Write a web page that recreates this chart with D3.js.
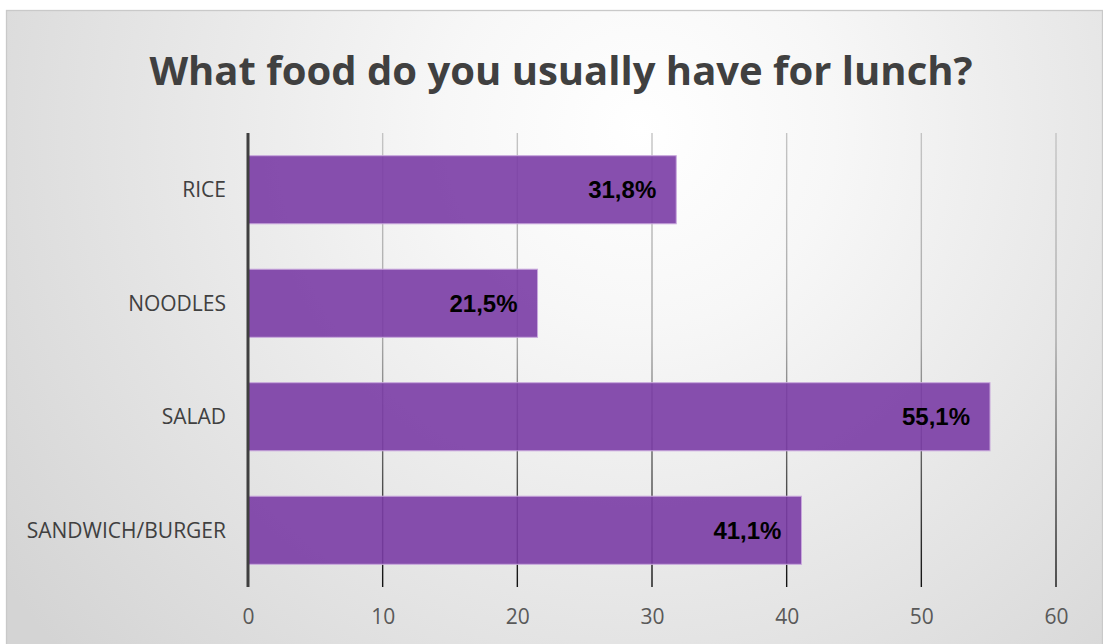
<!DOCTYPE html>
<html>
<head>
<meta charset="utf-8">
<script src="https://cdn.jsdelivr.net/npm/d3@7"></script>
<style>
  html, body { margin: 0; padding: 0; background: #ffffff; }
  svg { display: block; }
</style>
</head>
<body>
<svg id="chart" width="1103" height="644"></svg>
<script>
// Survey answers: share of respondents per lunch option
const categories = ["RICE", "NOODLES", "SALAD", "SANDWICH/BURGER"];
const values = [31.8, 21.5, 55.1, 41.1];
const valueLabels = ["31,8%", "21,5%", "55,1%", "41,1%"];
const xTicks = [0, 10, 20, 30, 40, 50, 60];
const titleText = "What food do you usually have for lunch?";

const W = 1103, H = 644;
const svg = d3.select("#chart");
const defs = svg.append("defs");

// Soft radial backdrop: bright near the upper middle, grey toward the edges
const bg = defs.append("radialGradient")
  .attr("id", "bgGrad")
  .attr("gradientUnits", "userSpaceOnUse")
  .attr("cx", 640).attr("cy", 130).attr("r", 780);
bg.append("stop").attr("offset", "0").attr("stop-color", "#ffffff");
bg.append("stop").attr("offset", "0.25").attr("stop-color", "#f7f7f7");
bg.append("stop").attr("offset", "1").attr("stop-color", "#d4d4d4");

const margin = { top: 133, bottom: 587, left: 248, right: 1056 };

// Gridlines fade from light grey at the top to near-black at the bottom
const gg = defs.append("linearGradient")
  .attr("id", "gridGrad")
  .attr("gradientUnits", "userSpaceOnUse")
  .attr("x1", 0).attr("y1", margin.top).attr("x2", 0).attr("y2", margin.bottom);
gg.append("stop").attr("offset", "0").attr("stop-color", "#c4c4c4");
gg.append("stop").attr("offset", "0.45").attr("stop-color", "#a8a8a8");
gg.append("stop").attr("offset", "1").attr("stop-color", "#111111");

svg.append("rect")
  .attr("x", 6.5).attr("y", 10.5)
  .attr("width", W - 7).attr("height", H)
  .attr("fill", "url(#bgGrad)")
  .attr("stroke", "#c9c9c9").attr("stroke-width", 1.3);

svg.append("text")
  .attr("x", 561).attr("y", 85)
  .attr("text-anchor", "middle")
  .attr("font-family", "'Open Sans', sans-serif")
  .attr("font-weight", "bold")
  .attr("font-size", 40)
  .attr("fill", "#404040")
  .text(titleText);

const x = d3.scaleLinear().domain([0, 60]).range([margin.left, margin.right]);
const y = d3.scaleBand().domain(categories).range([margin.top, margin.bottom])
  .paddingInner(0.4).paddingOuter(0.2);

// Vertical gridlines
svg.append("g").selectAll("line")
  .data(xTicks.filter(t => t > 0))
  .join("line")
  .attr("x1", d => x(d)).attr("x2", d => x(d))
  .attr("y1", margin.top).attr("y2", margin.bottom)
  .attr("stroke", "url(#gridGrad)")
  .attr("stroke-width", 1.4);

// Bars
svg.append("g").selectAll("rect")
  .data(categories)
  .join("rect")
  .attr("x", x(0))
  .attr("y", d => y(d))
  .attr("width", (d, i) => x(values[i]) - x(0))
  .attr("height", y.bandwidth())
  .attr("fill", "#7a3ca5")
  .attr("fill-opacity", 0.9)
  .attr("stroke", "#c9a9dd")
  .attr("stroke-width", 1);

// Category axis line
svg.append("line")
  .attr("x1", x(0)).attr("x2", x(0))
  .attr("y1", margin.top).attr("y2", margin.bottom)
  .attr("stroke", "#3f3f3f").attr("stroke-width", 3);

// Value labels inside the bar ends
svg.append("g").selectAll("text")
  .data(categories)
  .join("text")
  .attr("x", (d, i) => x(values[i]) - 20)
  .attr("y", d => y(d) + y.bandwidth() / 2)
  .attr("dy", "0.36em")
  .attr("text-anchor", "end")
  .attr("font-family", "'Liberation Sans', Arial, sans-serif")
  .attr("font-weight", "bold")
  .attr("font-size", 24)
  .attr("fill", "#000000")
  .text((d, i) => valueLabels[i]);

// Category labels
svg.append("g").selectAll("text")
  .data(categories)
  .join("text")
  .attr("x", 226)
  .attr("y", d => y(d) + y.bandwidth() / 2)
  .attr("dy", "0.36em")
  .attr("text-anchor", "end")
  .attr("font-family", "'Open Sans', sans-serif")
  .attr("font-size", 21)
  .attr("fill", "#404040")
  .text(d => d);

// Value axis tick labels
const xAxis = d3.axisBottom(x).tickValues(xTicks).tickSize(0).tickPadding(0);
const ax = svg.append("g").attr("transform", `translate(0, 609)`).call(xAxis);
ax.select(".domain").remove();
ax.selectAll("text")
  .attr("font-family", "'Open Sans', sans-serif")
  .attr("font-size", 21)
  .attr("fill", "#595959");
</script>
</body>
</html>
